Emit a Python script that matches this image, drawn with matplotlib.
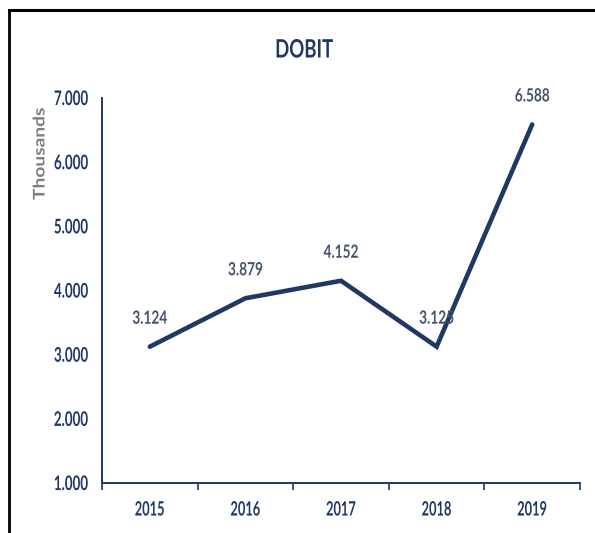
import matplotlib
matplotlib.use("Agg")
import matplotlib.pyplot as plt
from matplotlib.lines import Line2D
from matplotlib import font_manager
from matplotlib.font_manager import FontProperties
from matplotlib.ft2font import FT2Font
from matplotlib.patheffects import AbstractPathEffect
from matplotlib.transforms import Affine2D

years = ["2015", "2016", "2017", "2018", "2019"]
values = [3.124, 3.879, 4.152, 3.125, 6.588]
labels = ["3.124", "3.879", "4.152", "3.125", "6.588"]
yticks = [1, 2, 3, 4, 5, 6, 7]
yticklabels = ["1.000", "2.000", "3.000", "4.000", "5.000", "6.000", "7.000"]

W, H = 595, 533
DPI = 100
FONT_FILE = font_manager.findfont(FontProperties(family="Lato", weight="bold"))


class Stretch(AbstractPathEffect):
    """Scale the drawn glyph outlines (narrow, tall lettering of the original)."""
    def __init__(self, sx, sy, anchor="center"):
        super().__init__()
        self.sx, self.sy, self.anchor = sx, sy, anchor

    def draw_path(self, renderer, gc, tpath, affine, rgbFace=None):
        ext = tpath.get_extents(affine)
        cx = {"left": ext.x0, "right": ext.x1}.get(self.anchor, 0.5 * (ext.x0 + ext.x1))
        cy = 0.5 * (ext.y0 + ext.y1)
        t = affine + Affine2D().translate(-cx, -cy).scale(self.sx, self.sy).translate(cx, cy)
        renderer.draw_path(gc, tpath, t, rgbFace)


def ink(text, size):
    f = FT2Font(FONT_FILE)
    f.set_size(size, DPI)
    f.set_text(text)
    w, h = f.get_width_height()
    return w / 64.0, h / 64.0


def styled(text, wpx, hpx, anchor="center"):
    """font size + stretch so that the ink box is wpx x hpx pixels"""
    w0, h0 = ink(text, 100)
    size = 100 * ((wpx / w0) * (hpx / h0)) ** 0.5
    w1, h1 = ink(text, size)
    return FontProperties(fname=FONT_FILE, size=size), Stretch(wpx / w1, hpx / h1, anchor)


navy = "#1F3864"
fig = plt.figure(figsize=(W / DPI, H / DPI), dpi=DPI)
ax = fig.add_axes([102 / W, (H - 483) / H, (580 - 102) / W, (483 - 98) / H])

x = list(range(len(years)))
ax.plot(x, values, color=navy, lw=3.3, solid_capstyle="round", solid_joinstyle="miter")
lab_fp, lab_pe = styled("3.124", 35, 13)
for xi, v, lab in zip(x, values, labels):
    ax.annotate(lab, (xi, v), xytext=(0, 28), textcoords="offset pixels",
                ha="center", va="center", fontproperties=lab_fp,
                color="#44546A", path_effects=[lab_pe])

ax.set_xlim(-0.5, 4.5)
ax.set_ylim(1, 7)
ax.set_yticks(yticks)
ax.set_yticklabels(yticklabels)
ax.set_xticks([i - 0.5 for i in range(6)])
ax.set_xticklabels([])
ax.set_xticks(x, minor=True)
ax.set_xticklabels(years, minor=True)
ax.tick_params(axis="x", which="major", length=5, width=1.2, color=navy, direction="out")
ax.tick_params(axis="x", which="minor", length=0, pad=27 * 72 / DPI)
ax.tick_params(axis="y", length=0, pad=14 * 72 / DPI)
tick_fp, tick_pe = styled("7.000", 34, 14, anchor="right")
year_fp, year_pe = styled("2015", 30, 14)
for lab in ax.get_yticklabels():
    lab.set_fontproperties(tick_fp)
    lab.set_color(navy)
    lab.set_path_effects([tick_pe])
for lab in ax.get_xticklabels(minor=True):
    lab.set_fontproperties(year_fp)
    lab.set_color(navy)
    lab.set_verticalalignment("center")
    lab.set_path_effects([year_pe])

for s in ["top", "right"]:
    ax.spines[s].set_visible(False)
for s in ["left", "bottom"]:
    ax.spines[s].set_color(navy)
    ax.spines[s].set_linewidth(1.4)

t_fp, t_pe = styled("DOBIT", 58, 18)
fig.text(304 / W, 1 - 50 / H, "DOBIT", ha="center", va="center",
         fontproperties=t_fp, color=navy, path_effects=[t_pe])

# rotated axis unit label: along-text length 92 px, letter height ~12 px
w0, h0 = ink("Thousands", 100)
th_size = 100 * ((92 / w0) * (12 / h0)) ** 0.5
w1, h1 = ink("Thousands", th_size)
fig.text(40 / W, 1 - 154 / H, "Thousands", ha="center", va="center", rotation=90,
         fontproperties=FontProperties(fname=FONT_FILE, size=th_size), color="#7F7F7F",
         path_effects=[Stretch(12 / h1, 92 / w1)])

fig.add_artist(Line2D([9 / W, 9 / W], [0, 1 - 10 / H], transform=fig.transFigure, color="black", lw=2))
fig.add_artist(Line2D([9 / W, 1], [1 - 10 / H, 1 - 10 / H], transform=fig.transFigure, color="black", lw=2.2))

fig.savefig("out.png", dpi=DPI)
